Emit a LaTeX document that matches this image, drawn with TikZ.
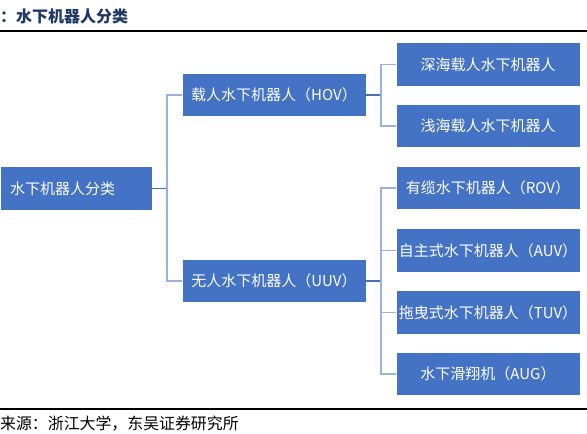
\documentclass[tikz,border=0pt]{standalone}
\usepackage{fontspec}
\newfontfamily\cjk{Noto Sans CJK SC}
\usetikzlibrary{positioning}

\definecolor{boxblue}{HTML}{4472C4}
\definecolor{linedark}{HTML}{4A6FB5}
\definecolor{linelight}{HTML}{9AB2DD}
\definecolor{titleblue}{HTML}{1F3864}

\tikzset{
  catbox/.style={rectangle, fill=boxblue, draw=white, line width=0.8pt,
    text=white, minimum width=184pt, minimum height=43.5pt, inner sep=0pt,
    font=\fontsize{15}{17}\selectfont\cjk},
  stub/.style={draw=linedark, line width=1.4pt},
  branch/.style={draw=linelight, line width=1.4pt},
  rulebar/.style={line width=2pt, black},
}

\begin{document}
\begin{tikzpicture}[x=1pt, y=-1pt]
    \useasboundingbox (0,0) rectangle (587,434);
    % caption, rules and source
    \node[anchor=west, inner sep=0pt, text=titleblue,
      font=\fontsize{16}{18}\selectfont\cjk\bfseries] (title) at (0,16) {：水下机器人分类};
    \draw[rulebar] (0,31) -- (587,31);
    \draw[rulebar] (0,409) -- (587,409);
    \node[anchor=west, inner sep=0pt, font=\fontsize{15.9}{18}\selectfont\cjk] (source) at (0,424)
      {来源：浙江大学，东吴证券研究所};

    % level 0 and 1
    \node[catbox, minimum width=152pt, text width=132pt, align=left, inner xsep=10pt] (root) at (76,188.5) {水下机器人分类};
    \node[catbox] (hov) at (274,95) {载人水下机器人（HOV）};
    \node[catbox] (uuv) at (274,281) {无人水下机器人（UUV）};

    % level 2
    \node[catbox] (deep) at (488,64.5) {深海载人水下机器人};
    \node[catbox] (shallow) at (488,126) {浅海载人水下机器人};
    \node[catbox] (rov) at (488,188) {有缆水下机器人（ROV）};
    \node[catbox] (auv) at (488,250.5) {自主式水下机器人（AUV）};
    \node[catbox] (tuv) at (488,312.5) {拖曳式水下机器人（TUV）};
    \node[catbox] (aug) at (488,374) {水下滑翔机（AUG）};

    % connectors
    \coordinate (rootbus) at (167,188.5);
    \coordinate (hovbus) at (381,95);
    \coordinate (uuvbus) at (381,281);
    \draw[stub] (root.east) -- (rootbus);
    \draw[branch] (rootbus) |- (hov.west);
    \draw[branch] (rootbus) |- (uuv.west);
    \draw[stub] (hov.east) -- (hovbus);
    \draw[branch] (hovbus) |- (deep.west);
    \draw[branch] (hovbus) |- (shallow.west);
    \draw[stub] (uuv.east) -- (uuvbus);
    \foreach \kid in {rov,auv,tuv,aug}
      \draw[branch] (uuvbus) |- (\kid.west);
\end{tikzpicture}
\end{document}
